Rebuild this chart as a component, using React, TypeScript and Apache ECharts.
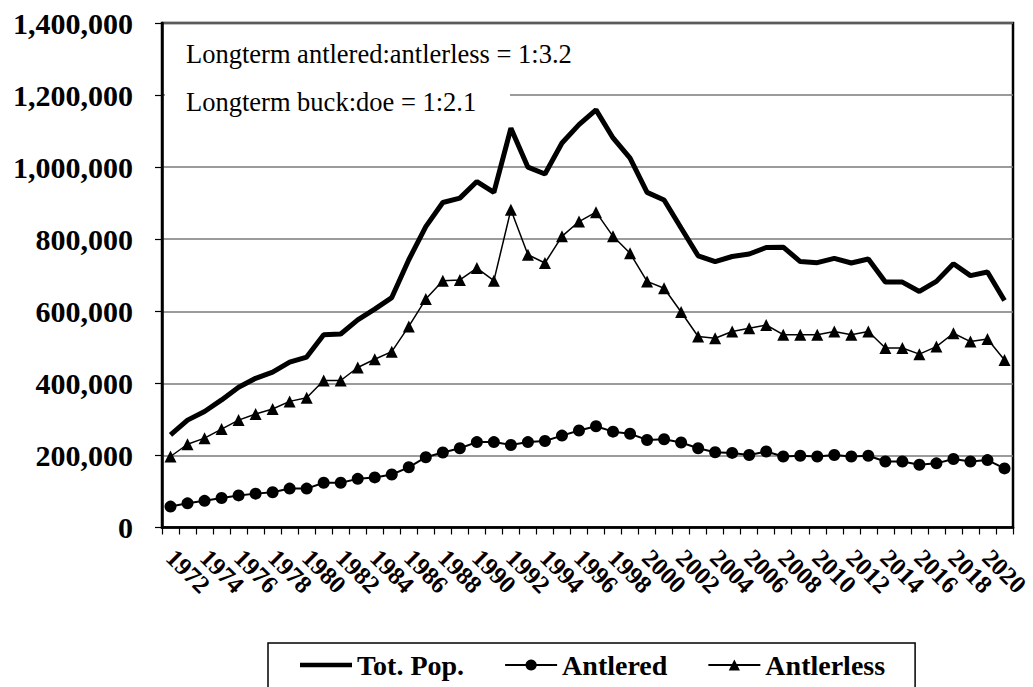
import React, { useEffect, useRef } from "react";
import * as echarts from "echarts";

const years: string[] = [];
for (let y = 1971; y <= 2020; y++) years.push(String(y));

const totPop = [
  257000, 298000, 322000, 354000, 389000, 414000, 431000, 459000, 473000, 535000,
  537000, 576000, 606000, 638000, 743000, 835000, 902000, 914000, 960000, 930000,
  1108000, 1000000, 981000, 1067000, 1118000, 1159000, 1081000, 1025000, 930000, 909000,
  831000, 754000, 738000, 752000, 759000, 777000, 778000, 738000, 735000, 747000,
  734000, 745000, 681000, 681000, 655000, 683000, 732000, 699000, 709000, 630000,
];

const antlered = [
  58000, 67000, 74000, 82000, 89000, 94000, 98000, 108000, 108000, 124000,
  124000, 135000, 139000, 147000, 167000, 195000, 208000, 220000, 237000, 237000,
  229000, 237000, 240000, 255000, 269000, 281000, 266000, 260000, 243000, 245000,
  236000, 220000, 209000, 207000, 201000, 211000, 197000, 199000, 197000, 201000,
  197000, 199000, 183000, 183000, 174000, 178000, 190000, 183000, 187000, 164000,
];

const antlerless = [
  197000, 231000, 248000, 273000, 298000, 315000, 329000, 350000, 360000, 408000,
  408000, 444000, 467000, 488000, 558000, 634000, 685000, 687000, 720000, 685000,
  882000, 757000, 734000, 808000, 849000, 875000, 808000, 761000, 683000, 664000,
  598000, 530000, 525000, 544000, 553000, 562000, 535000, 535000, 535000, 544000,
  535000, 544000, 498000, 498000, 481000, 502000, 539000, 516000, 523000, 465000,
];

const seriesNames = ["Tot. Pop.", "Antlered", "Antlerless"];
const noteLines = ["Longterm antlered:antlerless = 1:3.2", "Longterm buck:doe = 1:2.1"];

const FONT = "Liberation Serif";

function withCommas(v: number): string {
  return String(v).replace(/\B(?=(\d{3})+(?!\d))/g, ",");
}

export default function App() {
  const ref = useRef<HTMLDivElement>(null);
  useEffect(() => {
    if (!ref.current) return;
    const chart = echarts.init(ref.current, undefined, { renderer: "svg" });
    const gridTop = 23;
    const gridBottom = 159.5;
    chart.setOption({
      animation: false,
      backgroundColor: "#ffffff",
      textStyle: { fontFamily: FONT },
      grid: [
        {
          left: 162,
          right: 20,
          top: gridTop,
          bottom: gridBottom,
          show: true,
          borderColor: "#000",
          borderWidth: 2.5,
          backgroundColor: "transparent",
        },
        { left: 145, right: 37, top: gridTop, bottom: gridBottom },
      ],
      xAxis: [
        {
          type: "category",
          gridIndex: 0,
          data: years,
          boundaryGap: true,
          axisLine: { show: true, lineStyle: { color: "#000", width: 2.5 } },
          axisTick: { show: true, interval: 0, length: 7, lineStyle: { color: "#000", width: 1.2 } },
          axisLabel: { show: false },
          splitLine: { show: false },
        },
        {
          type: "category",
          gridIndex: 1,
          data: years,
          boundaryGap: true,
          axisLine: { show: false },
          axisTick: { show: false },
          splitLine: { show: false },
          axisLabel: {
            show: true,
            rotate: -45,
            margin: 26,
            interval: 0,
            formatter: (v: string, i: number) => (i % 2 === 1 ? v : ""),
            hideOverlap: false,
            fontFamily: FONT,
            fontWeight: "bold",
            fontSize: 25,
            color: "#000",
          },
        },
      ],
      yAxis: [
        {
          type: "value",
          gridIndex: 0,
          min: 0,
          max: 1400000,
          interval: 200000,
          axisLine: { show: true, lineStyle: { color: "#000", width: 2.5 } },
          axisTick: { show: true, length: 7, lineStyle: { color: "#000", width: 1.2 } },
          splitLine: { show: true, lineStyle: { color: "#7a7a7a", width: 1.5 } },
          axisLabel: {
            margin: 29,
            formatter: (v: number) => withCommas(v),
            fontFamily: FONT,
            fontWeight: "bold",
            fontSize: 30,
            color: "#000",
          },
        },
        { type: "value", gridIndex: 1, show: false, min: 0, max: 1400000 },
      ],
      legend: {
        data: [
          { name: seriesNames[0], icon: "path://M0,0L52,0L52,4.5L0,4.5Z" },
          { name: seriesNames[1] },
          { name: seriesNames[2] },
        ],
        left: 268,
        top: 643,
        orient: "horizontal",
        padding: [8, 30, 30, 32],
        itemGap: 40,
        itemWidth: 52,
        itemHeight: 14,
        borderColor: "#000",
        borderWidth: 1.5,
        backgroundColor: "#fff",
        textStyle: { fontFamily: FONT, fontWeight: "bold", fontSize: 28, color: "#000" },
      },
      graphic: [
        {
          type: "rect",
          z: 1,
          shape: { x: 165, y: 25, width: 345, height: 93 },
          style: { fill: "#fff" },
        },
        {
          type: "text",
          z: 1,
          x: 186,
          y: 54,
          style: {
            text: noteLines[0],
            fontFamily: FONT,
            fontSize: 26.5,
            fill: "#000",
            verticalAlign: "middle",
          },
        },
        {
          type: "text",
          z: 1,
          x: 186,
          y: 101.5,
          style: {
            text: noteLines[1],
            fontFamily: FONT,
            fontSize: 26.5,
            fill: "#000",
            verticalAlign: "middle",
          },
        },
      ],
      series: [
        {
          name: seriesNames[0],
          type: "line",
          xAxisIndex: 0,
          yAxisIndex: 0,
          data: totPop,
          symbol: "none",
          color: "#000",
          lineStyle: { color: "#000", width: 5 },
          z: 3,
        },
        {
          name: seriesNames[1],
          type: "line",
          xAxisIndex: 0,
          yAxisIndex: 0,
          data: antlered,
          symbol: "circle",
          symbolSize: 12,
          showSymbol: true,
          showAllSymbol: true,
          color: "#000",
          itemStyle: { color: "#000" },
          lineStyle: { color: "#000", width: 2 },
          z: 3,
        },
        {
          name: seriesNames[2],
          type: "line",
          xAxisIndex: 0,
          yAxisIndex: 0,
          data: antlerless,
          symbol: "triangle",
          symbolSize: 12,
          showSymbol: true,
          showAllSymbol: true,
          color: "#000",
          itemStyle: { color: "#000" },
          lineStyle: { color: "#000", width: 1.5 },
          z: 3,
        },
      ],
    });
    return () => chart.dispose();
  }, []);
  return (
    <div
      ref={ref}
      style={{ position: "fixed", left: 0, top: 0, width: 1033, height: 687, background: "#fff" }}
    />
  );
}
